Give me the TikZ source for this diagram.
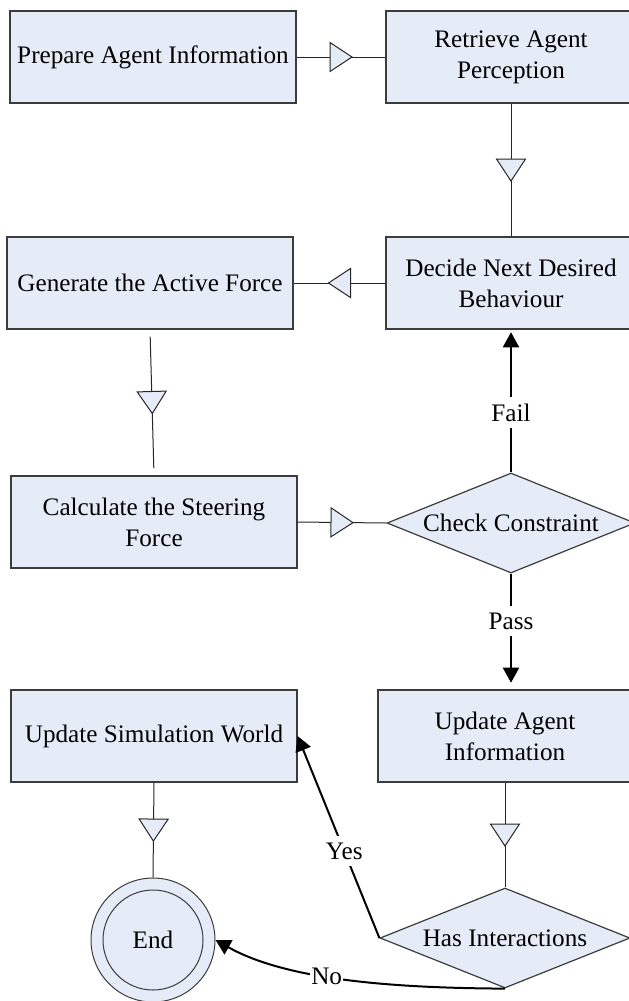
\documentclass[tikz,border=0pt]{standalone}
\usepackage{fontspec}
\setmainfont{Liberation Serif}
\usetikzlibrary{arrows.meta,shapes.geometric,decorations.markings}
\definecolor{boxblue}{RGB}{229,236,247}
\definecolor{edgegray}{RGB}{60,60,60}

\begin{document}
\begin{tikzpicture}[x=0.75pt,y=-0.75pt,
  every node/.style={font=\fontsize{18.9}{23.25}\selectfont},
  procbox/.style={draw=edgegray, fill=boxblue, line width=0.9pt,
    minimum height=69pt, inner sep=0pt, align=center},
  decision/.style={diamond, draw=edgegray, fill=boxblue, line width=0.9pt,
    inner sep=0pt, aspect=2.5},
  terminal/.style={circle, draw=edgegray, fill=boxblue, line width=0.75pt, inner sep=0pt},
  flow/.style={draw=black!85, line width=0.75pt, postaction={decorate},
    decoration={markings, mark=at position 0.5 with {
      \draw[draw=black!85, fill=boxblue, line width=0.75pt, line join=miter]
        (-8.25pt,-10.875pt) -- (8.25pt,0pt) -- (-8.25pt,10.875pt) -- cycle;}}},
  branch/.style={draw=black, line width=1.5pt,
    -{Triangle[length=11.25pt,width=12pt]}},
  tag/.style={fill=white, inner xsep=1pt, inner ysep=5pt}
]
\useasboundingbox (0,0) rectangle (629,1001);
\clip (0,0) rectangle (629,1001);

% process steps
\node[procbox, minimum width=214.5pt] (prep)   at (153,57)  {Prepare Agent Information};
\node[procbox, minimum width=187.5pt] (retr)   at (511,57)  {Retrieve Agent\\Perception};
\node[procbox, minimum width=214.5pt] (gen)    at (150,283) {Generate the Active Force};
\node[procbox, minimum width=187.5pt] (decide) at (511,283) {Decide Next Desired\\Behaviour};
\node[procbox, minimum width=214.5pt] (calc)   at (154,522) {Calculate the Steering\\Force};
\node[decision, minimum width=186pt, minimum height=75pt] (check) at (511,523) {Check Constraint};
\node[procbox, minimum width=214.5pt] (upsim)  at (154,736) {Update Simulation World};
\node[procbox, minimum width=190.5pt] (upag)   at (505,736) {Update Agent\\Information};
\node[decision, minimum width=187.5pt, minimum height=75pt] (inter) at (505,938) {Has Interactions};

% end state
\node[terminal, minimum size=93pt] (endring) at (153,940) {};
\node[terminal, minimum size=75pt] (end) at (153,940) {End};

% sequential flow
\draw[flow] (prep.east) -- (retr.west);
\draw[flow] (retr.south) -- (decide.north);
\draw[flow] (decide.west) -- (gen.east);
\draw[flow, shorten <=5.25pt, shorten >=5.25pt] (gen.south) -- (calc.north);
\draw[flow] (calc.east) -- (check.west);
\draw[flow] (upsim.south) -- (endring.north);
\draw[flow] (upag.south) -- (inter.north);

% decisions
\draw[branch, shorten >=2pt] (check.north) -- node[tag, pos=0.42] {Fail} (decide.south);
\draw[branch, shorten >=5pt] (check.south) -- node[tag, pos=0.41] {Pass} (check.south |- upag.north);
\draw[branch] (inter.west) -- node[tag, pos=0.43] {Yes} (upsim.east);
\draw[branch] (inter.south) .. controls (405,988) and (290,982) .. node[tag, pos=0.58] {No} (endring.east);
\end{tikzpicture}
\end{document}
